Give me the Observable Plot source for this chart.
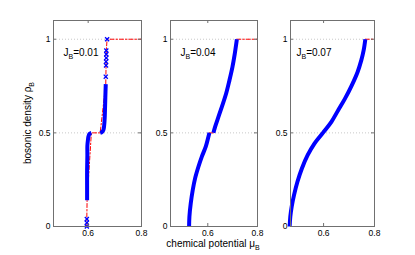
<!DOCTYPE html>
<html><head><meta charset="utf-8">
<script src="https://cdn.jsdelivr.net/npm/d3@7"></script>
<script src="https://cdn.jsdelivr.net/npm/@observablehq/plot@0.6"></script>
<style>
body{margin:0;background:#fff;}
#chart{position:relative;width:415px;height:255px;overflow:hidden;font-family:"Liberation Sans",Arial,sans-serif;}
#chart svg{position:absolute;top:0;background:transparent;}
.lab{position:absolute;font-size:10px;white-space:nowrap;color:#000;line-height:1;}
.lab sub{font-size:7px;vertical-align:-3px;line-height:0;}
</style></head><body><div id="chart"></div>
<script>
// ---- tick labels / annotations
const yTicks = [0, 0.5, 1];
const xTicks = [0.6, 0.8];
const jbValues = ["0.01", "0.04", "0.07"];

// ---- panel 1 (J_B = 0.01)
const p1DenseMu  = [0.596,0.596,0.596,0.597,0.597,0.599,0.601,0.605,0.612,  0.645,0.652,0.657,0.660,0.662,0.663,0.664,0.665,0.666];
const p1DenseRho = [0.14,0.22,0.30,0.38,0.43,0.46,0.48,0.495,0.5,          0.5,0.505,0.515,0.54,0.58,0.62,0.67,0.72,0.76];
const p1DenseSeg = [0,0,0,0,0,0,0,0,0, 1,1,1,1,1,1,1,1,1];
const p1MarkMu   = [0.595,0.595,0.595,0.666,0.667,0.667,0.668,0.668,0.668,0.671];
const p1MarkRho  = [0,0.02,0.04,0.80,0.86,0.88,0.90,0.92,0.94,1];
const p1RedMu    = [0.595,0.595,0.596,0.612,0.645,0.666,0.668,0.671,0.8];
const p1RedRho   = [0,0.05,0.14,0.5,0.5,0.76,0.94,1,1];
const p1RedSeg   = [0,0,0,0,0,0,0,0,0];

// ---- panel 2 (J_B = 0.04)
const p2DenseMu  = [0.5248,0.5261,0.5315,0.5395,0.5489,0.5623,0.5757,0.5918,0.6025,0.6066,
                    0.6227,0.6294,0.6428,0.6562,0.6736,0.6870,0.6991,0.7085,0.7170];
const p2DenseRho = [0,0.053,0.124,0.195,0.257,0.319,0.372,0.426,0.479,0.5,
                    0.5,0.532,0.585,0.638,0.709,0.780,0.851,0.922,1];
const p2DenseSeg = [0,0,0,0,0,0,0,0,0,0, 1,1,1,1,1,1,1,1,1];
const p2MarkMu   = [];
const p2MarkRho  = [];
const p2RedMu    = [0.6066,0.6227, 0.717,0.8];
const p2RedRho   = [0.5,0.5, 1,1];
const p2RedSeg   = [0,0, 1,1];

// ---- panel 3 (J_B = 0.07)
const p3DenseMu  = [0.4667,0.4693,0.4747,0.4840,0.4973,0.5147,0.5373,0.5640,0.5973,0.6307,0.6573,0.6840,0.7107,0.7333,0.7480,0.7573,0.7640];
const p3DenseRho = [0,0.053,0.106,0.169,0.239,0.310,0.381,0.443,0.5,0.559,0.621,0.683,0.754,0.824,0.887,0.940,1];
const p3DenseSeg = p3DenseMu.map(() => 0);
const p3MarkMu   = [];
const p3MarkRho  = [];
const p3RedMu    = [0.764,0.8];
const p3RedRho   = [1,1];
const p3RedSeg   = [0,0];

const panels = [
  {dm:p1DenseMu, dr:p1DenseRho, ds:p1DenseSeg, mm:p1MarkMu, mr:p1MarkRho, rm:p1RedMu, rr:p1RedRho, rs:p1RedSeg, jb:jbValues[0], xlo:0.47, left:31, inner:88, jdx:10},
  {dm:p2DenseMu, dr:p2DenseRho, ds:p2DenseSeg, mm:p2MarkMu, mr:p2MarkRho, rm:p2RedMu, rr:p2RedRho, rs:p2RedSeg, jb:jbValues[1], xlo:0.45, left:148, inner:87, jdx:10},
  {dm:p3DenseMu, dr:p3DenseRho, ds:p3DenseSeg, mm:p3MarkMu, mr:p3MarkRho, rm:p3RedMu, rr:p3RedRho, rs:p3RedSeg, jb:jbValues[2], xlo:0.47, left:268, inner:84, jdx:6}
];

const chart = document.getElementById("chart");
const mL = 22, mR = 4, mT = 20, mB = 29, H = 255;
const innerH = H - mT - mB;
const frameColor = "#707070";
const ns = "http://www.w3.org/2000/svg";

panels.forEach(p => {
  const dense = p.dm.map((m, i) => ({mu: m, rho: p.dr[i], seg: p.ds[i]}));
  const marks = p.mm.map((m, i) => ({mu: m, rho: p.mr[i]}));
  const red = p.rm.map((m, i) => ({mu: m, rho: p.rr[i], seg: p.rs[i]}));
  const svg = Plot.plot({
    width: mL + p.inner + mR, height: H,
    marginLeft: mL, marginRight: mR, marginTop: mT, marginBottom: mB,
    x: {domain: [p.xlo, 0.8], axis: null},
    y: {domain: [0, 1.1], axis: null},
    style: {fontFamily: "'Liberation Sans', Arial, sans-serif", fontSize: "8.5px", background: "transparent", overflow: "visible"},
    marks: [
      Plot.ruleY([0.5, 1], {stroke: "#c8c8c8", strokeDasharray: "1,2"}),
      Plot.line(red, {x: "mu", y: "rho", z: "seg", stroke: "#ff0000", strokeWidth: 1, strokeDasharray: "4,2,1.5,2"}),
      Plot.line(dense, {x: "mu", y: "rho", z: "seg", stroke: "#0000ff", strokeWidth: 4, strokeLinecap: "butt", curve: "catmull-rom"}),
      Plot.dot(marks, {x: "mu", y: "rho", symbol: "times", r: 2, stroke: "#0000ff", strokeWidth: 1.3}),
      Plot.frame({stroke: frameColor}),
      Plot.ruleY(yTicks, {stroke: frameColor, insetRight: p.inner - 3}),
      Plot.ruleY(yTicks, {stroke: frameColor, insetLeft: p.inner - 3}),
      Plot.ruleX(xTicks, {stroke: frameColor, insetTop: innerH - 3}),
      Plot.ruleX(xTicks, {stroke: frameColor, insetBottom: innerH - 3}),
      Plot.axisY(yTicks, {tickSize: 0, tickPadding: 3, tickFormat: d => String(d), label: null}),
      Plot.axisX(xTicks, {tickSize: 0, tickPadding: 3.5, tickFormat: d3.format(".1f"), label: null}),
      Plot.text([p.jb], {text: d => `J_B=${d}`, frameAnchor: "top-left", dx: p.jdx, dy: 28, textAnchor: "start", fontSize: 10, fill: "#000"})
    ]
  });
  svg.style.left = p.left + "px";
  svg.querySelectorAll('g[aria-label="text"] text').forEach(t => {
    const m = t.textContent.match(/^(.*)_(.)(.*)$/);
    if (!m) return;
    t.textContent = "";
    const a = document.createElementNS(ns, "tspan"); a.textContent = m[1];
    const b = document.createElementNS(ns, "tspan"); b.textContent = m[2];
    b.setAttribute("dy", "3"); b.setAttribute("font-size", "7");
    const c = document.createElementNS(ns, "tspan"); c.textContent = m[3];
    c.setAttribute("dy", "-3");
    t.append(a, b, c);
  });
  chart.appendChild(svg);
});

// axis titles
const yl = document.createElement("div");
yl.className = "lab";
yl.innerHTML = "bosonic density ρ<sub>B</sub>";
yl.style.left = "28px"; yl.style.top = "123px";
yl.style.transform = "translate(-50%,-50%) rotate(-90deg)";
chart.appendChild(yl);
const xl = document.createElement("div");
xl.className = "lab";
xl.innerHTML = "chemical potential μ<sub>B</sub>";
xl.style.left = "213px"; xl.style.top = "244px";
xl.style.transform = "translate(-50%,-50%)";
chart.appendChild(xl);
</script>
</body></html>
